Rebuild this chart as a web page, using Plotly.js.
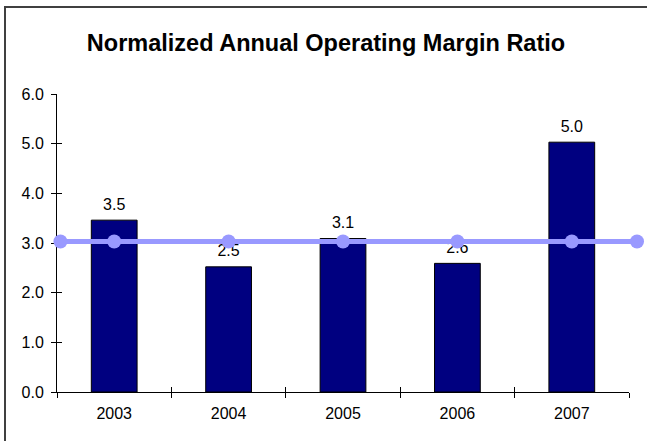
<!DOCTYPE html>
<html>
<head>
<meta charset="utf-8">
<script src="https://cdn.plot.ly/plotly-3.0.1.min.js"></script>
<style>html,body{margin:0;padding:0;background:#fff;}#chart{width:647px;height:441px;}</style>
</head>
<body>
<div id="chart"></div>
<script>
const years = ['2003', '2004', '2005', '2006', '2007'];
const yearPos = [0, 1, 2, 3, 4];
const ratios = [3.46, 2.52, 3.09, 2.59, 5.03];
const ratioLabels = ['3.5', '2.5', '3.1', '2.6', '5.0'];
const avgX = [-0.47, 0, 1, 2, 3, 4, 4.57];
const avgY = [3.03, 3.03, 3.03, 3.03, 3.03, 3.03, 3.03];
const boundaries = [-0.5, 0.5, 1.5, 2.5, 3.5, 4.5];
const yTicks = [0, 1, 2, 3, 4, 5, 6];
const yTickText = ['0.0', '1.0', '2.0', '3.0', '4.0', '5.0', '6.0'];

const font = 'Liberation Sans, Arial, sans-serif';
const plotW = 586, catW = 114.4, mainW = 572;

const traces = [
  {
    type: 'bar', x: yearPos, y: ratios, width: 0.4, xaxis: 'x', yaxis: 'y',
    marker: {color: '#000080', line: {color: '#000000', width: 1}},
    hoverinfo: 'none', showlegend: false
  },
  {
    type: 'scatter', mode: 'markers+text', x: yearPos, y: ratios, xaxis: 'x', yaxis: 'y',
    marker: {size: 9, color: 'rgba(0,0,0,0)'},
    text: ratioLabels, textposition: 'top center', cliponaxis: false,
    textfont: {family: font, size: 16, color: '#000'},
    hoverinfo: 'none', showlegend: false
  },
  {
    type: 'scatter', mode: 'lines+markers', x: avgX, y: avgY, xaxis: 'x2', yaxis: 'y',
    line: {color: '#9999FF', width: 5},
    marker: {color: '#9999FF', size: 14},
    cliponaxis: false, hoverinfo: 'none', showlegend: false
  },
  {type: 'scatter', mode: 'markers', x: [], y: [], xaxis: 'x3', yaxis: 'y', hoverinfo: 'none', showlegend: false},
  {type: 'scatter', mode: 'markers', x: [], y: [], xaxis: 'x', yaxis: 'y2', hoverinfo: 'none', showlegend: false}
];

const layout = {
  width: 647, height: 441,
  margin: {l: 57, r: 647 - 57 - plotW, t: 94, b: 49, pad: 0},
  paper_bgcolor: '#fff', plot_bgcolor: 'rgba(0,0,0,0)',
  font: {family: font, size: 16, color: '#000'},
  title: {text: 'Normalized Annual Operating Margin Ratio', font: {family: font, size: 23.5, color: '#000', weight: 'bold'},
          x: 326 / 647, xref: 'container', xanchor: 'center', y: 1 - 43 / 441, yref: 'container', yanchor: 'middle'},
  xaxis: {
    domain: [0, mainW / plotW], anchor: 'y',
    range: [-0.5, 4.5], tickvals: yearPos, ticktext: years, ticks: '',
    showline: true, linecolor: '#000', linewidth: 1, showgrid: false, zeroline: false,
    tickfont: {family: font, size: 16, color: '#000'}, ticklabelstandoff: 7,
    minor: {tickvals: boundaries, ticks: 'outside', ticklen: 5, tickcolor: '#000', tickwidth: 1, showgrid: false}
  },
  xaxis2: {
    domain: [0, 1], anchor: 'y', range: [-0.5, -0.5 + plotW / catW],
    visible: false, showgrid: false, zeroline: false
  },
  xaxis3: {
    overlaying: 'x', side: 'bottom', anchor: 'y', range: [-0.5, 4.5], tickvals: boundaries,
    ticks: 'inside', ticklen: 5, tickcolor: '#000', showticklabels: false,
    showline: false, showgrid: false, zeroline: false
  },
  yaxis: {
    anchor: 'x', range: [0, 6], tickvals: yTicks, ticktext: yTickText, ticks: 'outside', ticklen: 5,
    tickcolor: '#000', showline: true, linecolor: '#000', linewidth: 1, showgrid: false, zeroline: false,
    tickfont: {family: font, size: 16, color: '#000'}, ticklabelstandoff: 4
  },
  yaxis2: {
    overlaying: 'y', side: 'left', anchor: 'x', range: [0, 6], tickvals: yTicks,
    ticks: 'inside', ticklen: 5, tickcolor: '#000', showticklabels: false,
    showline: false, showgrid: false, zeroline: false
  },
  shapes: [
    {type: 'rect', xref: 'paper', yref: 'paper', x0: (5 - 57) / plotW, x1: 1.2, y0: -0.3, y1: (392 - 7) / 298,
     line: {color: '#404040', width: 2}, fillcolor: 'rgba(0,0,0,0)', layer: 'below'}
  ]
};

Plotly.newPlot('chart', traces, layout, {displayModeBar: false, staticPlot: true});
</script>
</body>
</html>
